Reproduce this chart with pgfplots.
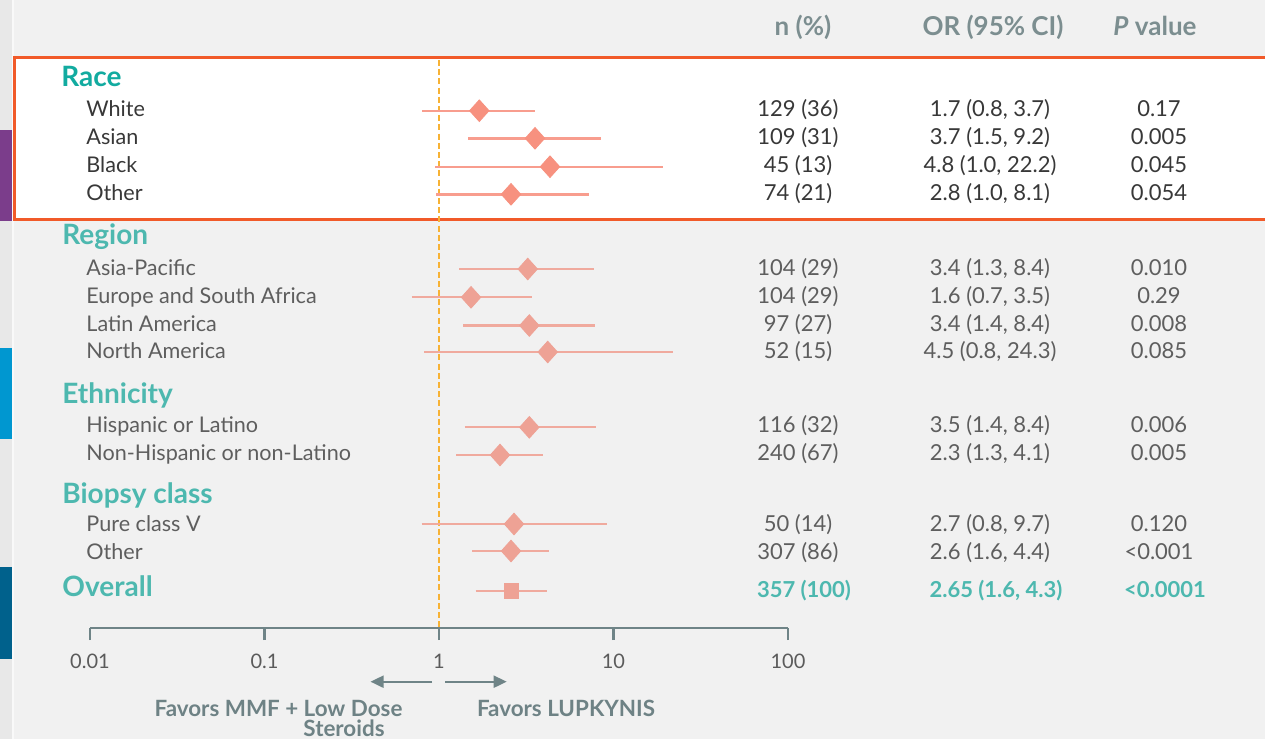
\documentclass[border=0pt]{standalone}
\usepackage{pgfplots}
\pgfplotsset{compat=1.18}
\usetikzlibrary{arrows.meta}
\usepackage{fontspec}
\setmainfont{Lato}
\definecolor{bg}{HTML}{F1F1F1}
\definecolor{stripc}{HTML}{E8E8E8}
\definecolor{purp}{HTML}{7B3D8B}
\definecolor{blu}{HTML}{0097D0}
\definecolor{dblu}{HTML}{00618C}
\definecolor{boxc}{HTML}{F15A29}
\definecolor{dashc}{HTML}{F7B235}
\definecolor{mkin}{HTML}{F7917F}
\definecolor{ciin}{HTML}{F89D8E}
\definecolor{mkout}{HTML}{EEA295}
\definecolor{ciout}{HTML}{F0AA9E}
\definecolor{axc}{HTML}{6F8487}
\definecolor{labin}{HTML}{383838}
\definecolor{labout}{HTML}{5E5E5E}
\definecolor{tealin}{HTML}{12ABA0}
\definecolor{tealout}{HTML}{4DB8AF}
\definecolor{hdrc}{HTML}{7C8E90}
\definecolor{tickc}{HTML}{5B5B5B}
\definecolor{favc}{HTML}{6E8285}
\begin{document}
\begin{tikzpicture}[x=0.5pt,y=-0.5pt,
  lab/.style={anchor=base west, inner sep=0pt, font=\fontsize{10.8}{12}\selectfont},
  head/.style={anchor=base west, inner sep=0pt, font=\fontsize{14}{16}\selectfont\bfseries},
  num/.style={anchor=base, inner sep=0pt, font=\fontsize{11}{12}\selectfont},
  hdr/.style={anchor=base, inner sep=0pt, font=\fontsize{13}{15}\selectfont\bfseries, text=hdrc},
  fav/.style={anchor=base, inner sep=0pt, font=\fontsize{11.2}{12}\selectfont\bfseries, text=favc}]
% background
\fill[bg] (0,0) rectangle (1265,739);
\fill[stripc] (0,0) rectangle (12,739);
\fill[white!60!bg] (12,0) rectangle (14,739);
\fill[purp] (0,130) rectangle (12,221);
\fill[blu] (0,348) rectangle (12,439);
\fill[dblu] (0,567) rectangle (12,659);
\fill[white] (14.5,57.5) rectangle (1265,219.5);
\draw[boxc, line width=1.5pt] (1266,57.5) -- (14.5,57.5) -- (14.5,219.5) -- (1266,219.5);

% data axis (whole picture, x in odds ratio, y in pixel rows)
\begin{axis}[at={(0pt,-369.5pt)}, anchor=south west, scale only axis,
  width=632.5pt, height=369.5pt, xmode=log, xmin=0.0030488, xmax=54140,
  ymin=0, ymax=739, y dir=reverse, hide axis, clip=false]
\addplot[dashc, line width=1pt, dash pattern=on 3pt off 1.6pt] coordinates {(1,60) (1,628)};
% confidence intervals inside the box (Race)
\addplot[ciin, line width=1.2pt] coordinates {(0.802,110.7) (3.549,110.7)};
\addplot[ciin, line width=1.2pt] coordinates {(1.472,138.3) (8.480,138.3)};
\addplot[ciin, line width=1.2pt] coordinates {(0.949,166.7) (19.14,166.7)};
\addplot[ciin, line width=1.2pt] coordinates {(0.961,194.3) (7.267,194.3)};
% confidence intervals outside the box
\addplot[ciout, line width=1.15pt] coordinates {(1.307,269) (7.762,269)};
\addplot[ciout, line width=1.15pt] coordinates {(0.698,297.3) (3.398,297.3)};
\addplot[ciout, line width=1.15pt] coordinates {(1.378,325.5) (7.834,325.5)};
\addplot[ciout, line width=1.15pt] coordinates {(0.824,352) (21.84,352)};
\addplot[ciout, line width=1.15pt] coordinates {(1.409,427.3) (7.94,427.3)};
\addplot[ciout, line width=1.15pt] coordinates {(1.252,455) (3.929,455)};
\addplot[ciout, line width=1.15pt] coordinates {(0.796,524) (9.14,524)};
\addplot[ciout, line width=1.15pt] coordinates {(1.546,551) (4.270,551)};
\addplot[ciout, line width=1.15pt] coordinates {(1.623,591) (4.142,591)};
% point estimates
\addplot[only marks, mark=diamond*, mark size=5.4pt, mark options={xscale=1.2, fill=mkin, draw=mkin}]
  coordinates {(1.702,110.7) (3.549,138.3) (4.326,166.7) (2.586,194.3)};
\addplot[only marks, mark=diamond*, mark size=5.4pt, mark options={xscale=1.2, fill=mkout, draw=mkout}]
  coordinates {(3.224,269) (1.526,297.3) (3.293,325.5) (4.197,352)
               (3.293,427.3) (2.236,455) (2.690,524) (2.586,551)};
\addplot[only marks, mark=square*, mark size=3.6pt, mark options={fill=mkout, draw=mkout}]
  coordinates {(2.59,591)};
\end{axis}

% visible odds-ratio axis
\begin{axis}[at={(45pt,-314pt)}, anchor=south west, scale only axis,
  width=349pt, height=10pt, xmode=log, xmin=0.01, xmax=100, ymin=0, ymax=1,
  axis x line*=bottom, axis y line=none,
  xtick={0.01,0.1,1,10,100}, xticklabels={0.01,0.1,1,10,100}, xminorticks=false,
  tick align=outside, major tick length=6pt,
  x axis line style={axc, line width=1.3pt},
  every tick/.style={axc, line width=1.3pt},
  xticklabel style={anchor=base, yshift=-14pt, inner sep=0pt, font=\fontsize{10}{12}\selectfont, text=tickc}]
\end{axis}

% column headers
\node[hdr] at (803,35) {n (\%)};
\node[hdr] at (993,35) {OR (95\% CI)};
\node[hdr] at (1155,35) {\itshape P\upshape\ value};

% Race
\node[head, text=tealin] at (61,86) {Race};
\node[lab, text=labin] at (86,116.7) {White};
\node[lab, text=labin] at (86,144.5) {Asian};
\node[lab, text=labin] at (86,172.5) {Black};
\node[lab, text=labin] at (86,200.5) {Other};
\node[num, text=labin] at (798,116.7) {129 (36)};
\node[num, text=labin] at (798,144.5) {109 (31)};
\node[num, text=labin] at (798,172.5) {45 (13)};
\node[num, text=labin] at (798,200.5) {74 (21)};
\node[num, text=labin] at (990,116.7) {1.7 (0.8, 3.7)};
\node[num, text=labin] at (990,144.5) {3.7 (1.5, 9.2)};
\node[num, text=labin] at (990,172.5) {4.8 (1.0, 22.2)};
\node[num, text=labin] at (990,200.5) {2.8 (1.0, 8.1)};
\node[num, text=labin] at (1159,116.7) {0.17};
\node[num, text=labin] at (1159,144.5) {0.005};
\node[num, text=labin] at (1159,172.5) {0.045};
\node[num, text=labin] at (1159,200.5) {0.054};

% Region
\node[head, text=tealout] at (62,244.5) {Region};
\node[lab, text=labout] at (86,275) {Asia-Pacific};
\node[lab, text=labout] at (86,303) {Europe and South Africa};
\node[lab, text=labout] at (86,331) {Latin America};
\node[lab, text=labout] at (86,358.5) {North America};
\node[num, text=labout] at (798,275) {104 (29)};
\node[num, text=labout] at (798,303) {104 (29)};
\node[num, text=labout] at (798,331) {97 (27)};
\node[num, text=labout] at (798,358.5) {52 (15)};
\node[num, text=labout] at (990,275) {3.4 (1.3, 8.4)};
\node[num, text=labout] at (990,303) {1.6 (0.7, 3.5)};
\node[num, text=labout] at (990,331) {3.4 (1.4, 8.4)};
\node[num, text=labout] at (990,358.5) {4.5 (0.8, 24.3)};
\node[num, text=labout] at (1159,275) {0.010};
\node[num, text=labout] at (1159,303) {0.29};
\node[num, text=labout] at (1159,331) {0.008};
\node[num, text=labout] at (1159,358.5) {0.085};

% Ethnicity
\node[head, text=tealout] at (62,403.3) {Ethnicity};
\node[lab, text=labout] at (86,432.7) {Hispanic or Latino};
\node[lab, text=labout] at (86,460) {Non-Hispanic or non-Latino};
\node[num, text=labout] at (798,432.7) {116 (32)};
\node[num, text=labout] at (798,460) {240 (67)};
\node[num, text=labout] at (990,432.7) {3.5 (1.4, 8.4)};
\node[num, text=labout] at (990,460) {2.3 (1.3, 4.1)};
\node[num, text=labout] at (1159,432.7) {0.006};
\node[num, text=labout] at (1159,460) {0.005};

% Biopsy class
\node[head, text=tealout] at (62,503.3) {Biopsy class};
\node[lab, text=labout] at (86,531.5) {Pure class V};
\node[lab, text=labout] at (86,559.5) {Other};
\node[num, text=labout] at (798,531.5) {50 (14)};
\node[num, text=labout] at (798,559.5) {307 (86)};
\node[num, text=labout] at (990,531.5) {2.7 (0.8, 9.7)};
\node[num, text=labout] at (990,559.5) {2.6 (1.6, 4.4)};
\node[num, text=labout] at (1159,531.5) {0.120};
\node[num, text=labout] at (1159,559.5) {<0.001};

% Overall
\node[head, text=tealout] at (62,596.7) {Overall};
\node[num, text=tealout, font=\fontsize{11}{12}\selectfont\bfseries] at (804,597.5) {357 (100)};
\node[num, text=tealout, font=\fontsize{11}{12}\selectfont\bfseries] at (996,597.5) {2.65 (1.6, 4.3)};
\node[num, text=tealout, font=\fontsize{11}{12}\selectfont\bfseries] at (1165,597.5) {<0.0001};

% direction arrows and captions
\draw[axc, line width=1pt, -{Triangle[length=6.5pt,width=6pt]}] (432,681.7) -- (370.5,681.7);
\draw[axc, line width=1pt, -{Triangle[length=6.5pt,width=6pt]}] (445,681.7) -- (506.7,681.7);
\node[fav] at (278.5,716) {Favors MMF + Low Dose};
\node[fav] at (344,736) {Steroids};
\node[fav] at (566,716) {Favors LUPKYNIS};

\pgfresetboundingbox
\path[use as bounding box] (0,0) rectangle (1265,739);
\end{tikzpicture}
\end{document}
